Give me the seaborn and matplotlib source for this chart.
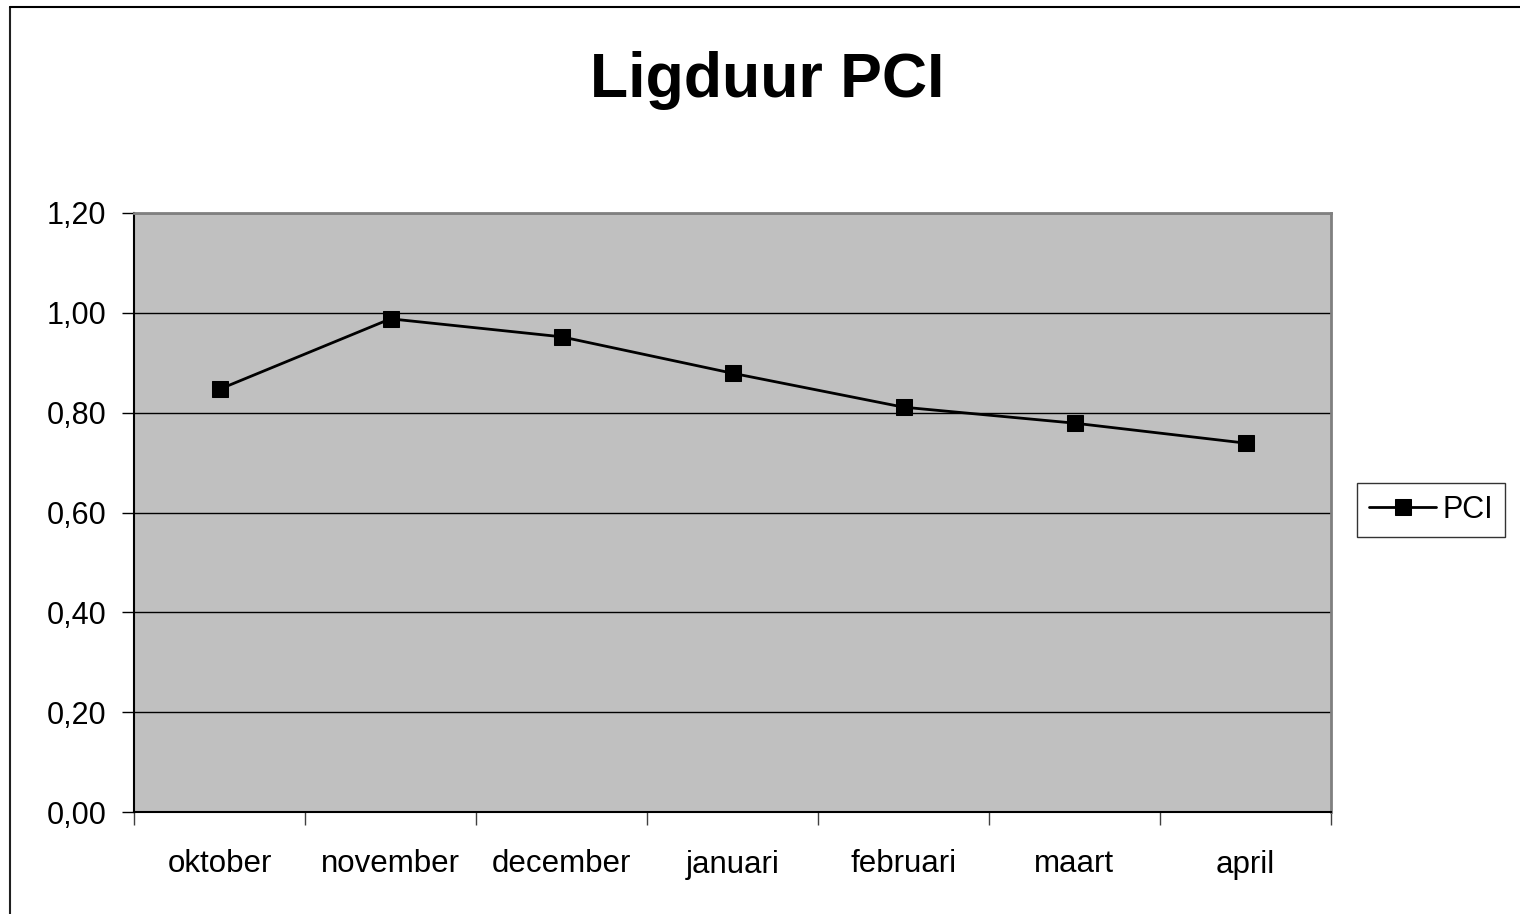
import matplotlib
matplotlib.use("Agg")
import matplotlib.pyplot as plt
import seaborn as sns
import pandas as pd
from matplotlib.lines import Line2D
from matplotlib.ticker import FixedLocator, FuncFormatter

months = ["oktober", "november", "december", "januari", "februari", "maart", "april"]
pci = [0.847, 0.988, 0.952, 0.879, 0.811, 0.779, 0.739]
yticks = [0.0, 0.2, 0.4, 0.6, 0.8, 1.0, 1.2]

sns.set_style("white")
plt.rcParams["font.family"] = ["Liberation Sans", "DejaVu Sans"]
plt.rcParams["text.color"] = "black"
plt.rcParams["xtick.color"] = "black"
plt.rcParams["ytick.color"] = "black"
plt.rcParams["axes.labelcolor"] = "black"

fig = plt.figure(figsize=(15.2, 9.14), dpi=100)
ax = fig.add_axes([134/1520, 1-812/914, (1331-134)/1520, (812-213)/914])
ax.set_facecolor("#c0c0c0")

df = pd.DataFrame({"maand": months, "PCI": pci})
df["pos"] = range(len(months))
sns.lineplot(data=df, x="pos", y="PCI", ax=ax, color="black", linewidth=2,
             marker="s", markersize=11, markeredgecolor="black",
             markerfacecolor="black", label="PCI")

ax.set_xlim(-0.5, len(months) - 0.5)
ax.set_ylim(0, 1.2)
ax.set_xticks(range(len(months)))
ax.set_xticklabels(months, fontsize=22.5)
ax.xaxis.set_minor_locator(FixedLocator([i - 0.5 for i in range(len(months) + 1)]))
ax.tick_params(axis="x", which="major", length=0, pad=27)
ax.tick_params(axis="x", which="minor", length=9, width=1, color="#404040", direction="out", bottom=True)
ax.set_yticks(yticks)
ax.yaxis.set_major_formatter(FuncFormatter(lambda v, p: f"{v:.2f}".replace(".", ",")))
ax.tick_params(axis="y", length=9, width=1, color="black", direction="out", labelsize=22, pad=11, left=True)
ax.grid(axis="y", color="black", linewidth=1)
ax.set_axisbelow(True)
ax.set_xlabel("")
ax.set_ylabel("")

for s in ["top", "right"]:
    ax.spines[s].set_color("#808080")
    ax.spines[s].set_linewidth(2)
for s in ["left", "bottom"]:
    ax.spines[s].set_color("black")
    ax.spines[s].set_linewidth(1.5)

leg = ax.legend(loc="center left", bbox_to_anchor=(1.0217, 0.504), fontsize=22,
                frameon=True, fancybox=False, handlelength=2.2, borderpad=0.4,
                handletextpad=0.2, borderaxespad=0)
leg.get_frame().set_edgecolor("black")
leg.get_frame().set_linewidth(1)

fig.text(0.505, 1 - 80/914, "Ligduur PCI", ha="center", va="center",
         fontsize=45, fontweight="bold")

fig.add_artist(Line2D([9.5/1520, 9.5/1520], [0, 1 - 7/914], transform=fig.transFigure,
                      color="#202020", linewidth=1.5))
fig.add_artist(Line2D([9.5/1520, 1], [1 - 7/914, 1 - 7/914], transform=fig.transFigure,
                      color="black", linewidth=1.5))

fig.savefig("out.png", dpi=100)
